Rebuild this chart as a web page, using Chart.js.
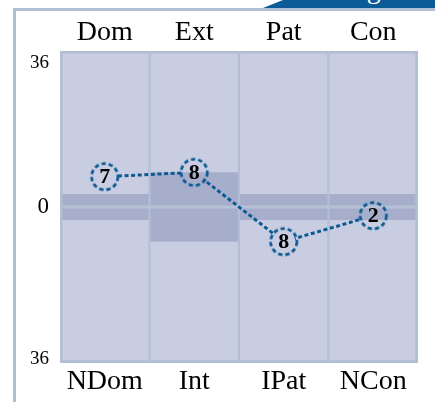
<!DOCTYPE html>
<html>
<head>
<meta charset="utf-8">
<script src="https://cdn.jsdelivr.net/npm/chart.js@4.4.1/dist/chart.umd.min.js"></script>
<style>
  html, body { margin: 0; padding: 0; background: #fff; }
  #wrap { position: relative; width: 435px; height: 402px; overflow: hidden; }
  #frame { position: absolute; left: 13px; top: 8px; width: 600px; height: 600px;
           border-left: 3px solid #b2bed3; border-top: 3px solid #b2bed3; }
  #tab { position: absolute; left: 263px; top: 0; width: 172px; height: 8px; background: #0b5b96;
         clip-path: polygon(20px 0, 100% 0, 100% 100%, 0 100%); overflow: hidden; }
  #tab span { position: absolute; left: 43px; top: -25px; white-space: nowrap; color: #fff;
              font: 28px "Liberation Serif", "Times New Roman", serif; line-height: 28px; }
  #chart { position: absolute; left: 0; top: 0; }
</style>
</head>
<body>
<div id="wrap">
  <div id="frame"></div>
  <div id="tab"><span>Rating</span></div>
  <canvas id="chart" width="435" height="402"></canvas>
</div>
<script>
const topLabels = ['Dom', 'Ext', 'Pat', 'Con'];
const bottomLabels = ['NDom', 'Int', 'IPat', 'NCon'];
const scores = [7, 8, -8, -2];
const bandLow = [-3, -8, -3, -3];
const bandHigh = [3, 8, 3, 3];
const yTicks = [-36, 0, 36];
const yMin = -36;
const yMax = 36;

const serif = '"Liberation Serif", "Times New Roman", serif';
const edgeColor = '#b2bed3';
const columnColor = '#c9cde1';
const bandColor = '#a6aecb';
const zeroColor = '#b7c1d6';
const markColor = '#0d5b94';

// dashed ring used as the point marker
function ringImage() {
  const c = document.createElement('canvas');
  c.width = 34;
  c.height = 34;
  const g = c.getContext('2d');
  g.strokeStyle = markColor;
  g.lineWidth = 3;
  g.setLineDash([4.3, 2.9]);
  g.beginPath();
  g.arc(17, 17, 13, 0, Math.PI * 2);
  g.stroke();
  return c;
}

function sideBorders(ctx, tb) {
  const i = ctx.dataIndex;
  const last = topLabels.length - 1;
  return { left: i === 0 ? 3 : 1.5, right: i === last ? 3 : 1.5, top: tb, bottom: tb };
}

// zero line under the markers, keep the dotted line out of the rings, then the numbers
const markPlugin = {
  id: 'marks',
  beforeDatasetDraw(chart, args) {
    if (args.index !== 0) return;
    const { ctx, chartArea: a } = chart;
    const y0 = chart.scales.y.getPixelForValue(0);
    ctx.save();
    ctx.fillStyle = zeroColor;
    ctx.fillRect(a.left + 3, y0 - 1.5, a.right - a.left - 6, 3);
    ctx.restore();

    ctx.save();
    ctx.beginPath();
    ctx.rect(0, 0, chart.width, chart.height);
    args.meta.data.forEach(p => {
      ctx.moveTo(p.x + 11.5, p.y);
      ctx.arc(p.x, p.y, 11.5, 0, Math.PI * 2);
    });
    ctx.clip('evenodd');
  },
  afterDatasetDraw(chart, args) {
    if (args.index !== 0) return;
    const ctx = chart.ctx;
    ctx.restore();
    ctx.save();
    ctx.fillStyle = '#000';
    ctx.font = 'bold 22px ' + serif;
    ctx.textAlign = 'center';
    ctx.textBaseline = 'middle';
    args.meta.data.forEach((p, i) => {
      ctx.fillText(String(Math.abs(scores[i])), p.x, p.y + 1);
    });
    ctx.restore();
  }
};

const axisText = (size, pad) => ({
  color: '#000',
  font: { family: serif, size: size },
  padding: pad,
  maxRotation: 0,
  autoSkip: false
});

new Chart(document.getElementById('chart'), {
  type: 'bar',
  data: {
    labels: bottomLabels,
    datasets: [
      {
        type: 'line',
        data: scores,
        borderColor: markColor,
        borderWidth: 3,
        borderDash: [4, 2.6],
        pointStyle: ringImage(),
        pointRadius: 14,
        fill: false,
        tension: 0,
        order: 0
      },
      {
        data: bandLow.map((lo, i) => [lo, bandHigh[i]]),
        backgroundColor: bandColor,
        borderColor: edgeColor,
        borderWidth: ctx => sideBorders(ctx, 0),
        borderSkipped: false,
        grouped: false,
        barPercentage: 1,
        categoryPercentage: 1,
        order: 1
      },
      {
        data: topLabels.map(() => [yMin, yMax]),
        backgroundColor: columnColor,
        borderColor: edgeColor,
        borderWidth: ctx => sideBorders(ctx, 3),
        borderSkipped: false,
        grouped: false,
        barPercentage: 1,
        categoryPercentage: 1,
        order: 2
      }
    ]
  },
  options: {
    responsive: false,
    animation: false,
    layout: { padding: { left: 0, top: 0, right: 10, bottom: 0 } },
    plugins: {
      legend: { display: false },
      tooltip: { enabled: false }
    },
    scales: {
      x: {
        type: 'category',
        position: 'bottom',
        labels: bottomLabels,
        offset: true,
        grid: { display: false, drawTicks: false },
        border: { display: false },
        ticks: axisText(28, 2),
        afterFit: s => { s.height = 39; }
      },
      xTop: {
        type: 'category',
        position: 'top',
        labels: topLabels,
        offset: true,
        grid: { display: false, drawTicks: false },
        border: { display: false },
        ticks: axisText(28, 2),
        afterFit: s => { s.height = 51; }
      },
      y: {
        min: yMin,
        max: yMax,
        afterBuildTicks: s => { s.ticks = yTicks.map(v => ({ value: v })); },
        grid: { display: false, drawTicks: false },
        border: { display: false },
        ticks: {
          color: '#000',
          font: ctx => {
            const v = ctx.tick ? ctx.tick.value : 0;
            if (v === yMax) return { family: serif, size: 19, lineHeight: '25px' };
            if (v === yMin) return { family: serif, size: 19, lineHeight: '8px' };
            return { family: serif, size: 23, lineHeight: '26px' };
          },
          padding: 11,
          // end labels sit inside the plot edges, as in the source
          callback: v => {
            const t = String(Math.abs(v));
            if (v === yMax) return ['', t];
            if (v === yMin) return [t, ''];
            return t;
          }
        },
        afterFit: s => { s.width = 60; }
      }
    }
  },
  plugins: [markPlugin]
});
</script>
</body>
</html>
